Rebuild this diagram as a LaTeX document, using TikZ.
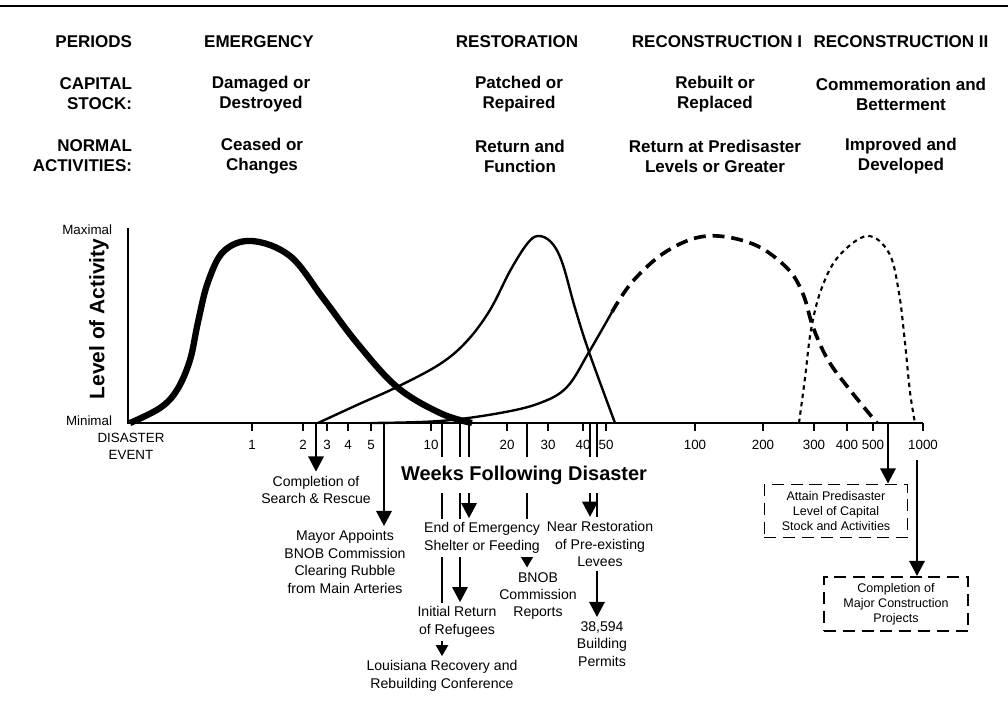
\documentclass[tikz,border=0pt]{standalone}
\usepackage{fontspec}
\setmainfont{Liberation Sans}
\usetikzlibrary{arrows.meta,backgrounds}
\tikzset{
  hdr/.style={font=\bfseries\fontsize{12.1}{14.2}\selectfont,align=center},
  hdrl/.style={hdr,align=right,anchor=east},
  evt/.style={font=\fontsize{10}{12.4}\selectfont,align=center,fill=white,inner xsep=0.5pt,inner ysep=3pt},
  goal/.style={draw,line width=1.3pt,dash pattern=on 0.3cm off 0.17cm,font=\fontsize{8.9}{10.6}\selectfont,align=center},
  axlbl/.style={font=\fontsize{9.5}{12}\selectfont},
  evline/.style={line width=1.9pt},
  evarrow/.style={evline,-{Triangle[width=0.38cm,length=0.38cm]}},
  evsmall/.style={evline,-{Triangle[width=0.3cm,length=0.28cm]}},
  emerg/.style={line width=4.5pt},
  resto/.style={line width=1.7pt},
  recon/.style={line width=2.6pt,dash pattern=on 0.3cm off 0.17cm},
  reconb/.style={line width=1.5pt,dash pattern=on 0.11cm off 0.1cm}
}

\begin{document}
\begin{tikzpicture}[x=0.025cm,y=-0.025cm]
            \useasboundingbox (0,0) rectangle (1008,718);
            \draw [line width =1.4pt] (0,6)--(1008,6);

            \node[hdrl] (per) at (137,42) {PERIODS};
            \node[hdrl] (cap) at (137,94) {CAPITAL\\STOCK:};
            \node[hdrl] (nor) at (137,156) {NORMAL\\ACTIVITIES:};

            \node[hdr] (em) at (259,42) {EMERGENCY};
            \node[hdr] (emc) at (261,94) {Damaged or\\Destroyed};
            \node[hdr] (emn) at (262,156) {Ceased or\\Changes};

            \node[hdr] (re) at (517,42) {RESTORATION};
            \node[hdr] (rec) at (519,94) {Patched or\\Repaired};
            \node[hdr] (ren) at (520,156) {Return and\\Function};

            \node[hdr] (ra) at (717,42) {RECONSTRUCTION I};
            \node[hdr] (rac) at (715,94) {Rebuilt or\\Replaced};
            \node[hdr] (ran) at (715,156) {Return at Predisaster\\Levels or Greater};

            \node[hdr] (rb) at (901,42) {RECONSTRUCTION II};
            \node[hdr] (rbc) at (901,94) {Commemoration and\\Betterment};
            \node[hdr] (rbn) at (901,156) {Improved and\\Developed};

            % axes
            \draw [line width =2.1pt] (128,228)--(128,423)--(923,423);
            \node[axlbl,anchor=east] (max) at (117,230) {Maximal};
            \node[axlbl,anchor=east] (min) at (117,421) {Minimal};
            \node[axlbl,align=center] (dis) at (131,446) {DISASTER\\EVENT};
            \node[font=\bfseries\fontsize{14.9}{17}\selectfont,rotate=90] (lvl) at (99,319) {Level of Activity};
            \foreach \x/\t in {252/1,303/2,327/3,348/4,371/5,431/10,507/20,548/30,583/40,606/50,695/100,763/200,814/300,847/400,873/500,923/1000}{
                \draw [line width =1.5pt] (\x,423)--(\x,431);
                \node[axlbl] (t\t) at (\x,445) {\t};
            }

            % curves
            \draw[emerg] plot[smooth,tension=0.6] coordinates {(130,423) (160,408) (177,390) (190,360) (198,322) (208,282) (224,251) (252,241) (290,256) (323,298) (357,343) (397,387) (440,413) (472,423)};
            \draw[resto] plot[smooth,tension=0.6] coordinates {(318,423) (357,405) (397,387) (440,364) (467,341) (490,310) (510,271) (527,244) (538,236) (551,242) (562,262) (575,308) (589,352) (615,423)};
            \draw[resto] plot[smooth,tension=0.6] coordinates {(372,423) (440,421) (500,413) (540,403) (567,387) (589,352) (612,312)};
            \draw[recon] plot[smooth,tension=0.6] coordinates {(612,312) (633,281) (667,251) (707,236) (753,244) (787,268) (803,294) (813,327) (828,360) (850,390) (877,423)};
            \draw[reconb] plot[smooth,tension=0.6] coordinates {(799,423) (805,378) (811,330) (821,290) (838,257) (867,236) (889,253) (899,293) (905,343) (910,392) (915,423)};

            % events
            \node[evt] (sr) at (316,490) {Completion of\\Search \& Rescue};
            \node[evt] (bnob) at (345,562) {Mayor Appoints\\BNOB Commission\\Clearing Rubble\\from Main Arteries};
            \node[evt,font=\bfseries\fontsize{14.2}{16}\selectfont,inner xsep=3pt,inner ysep=6pt] (wk) at (524,475) {Weeks Following Disaster};
            \node[evt] (rep) at (538,596) {BNOB\\Commission\\Reports};
            \node[evt] (eoe) at (482,538) {End of Emergency\\Shelter or Feeding};
            \node[evt] (ret) at (457,622) {Initial Return\\of Refugees};
            \node[evt] (lrc) at (442,676) {Louisiana Recovery and\\Rebuilding Conference};
            \node[evt] (lev) at (600,544) {Near Restoration\\of Pre-existing\\Levees};
            \node[evt] (bp) at (602,644) {38,594\\Building\\Permits};
            \node[goal,minimum width=3.575cm,minimum height=1.325cm] (pre) at (836,511) {Attain Predisaster\\Level of Capital\\Stock and Activities};
            \node[goal,minimum width=3.6cm,minimum height=1.35cm] (maj) at (896,604) {Completion of\\Major Construction\\Projects};

            \coordinate (a316) at (316,423);
            \coordinate (a384) at (384,423);
            \coordinate (a442) at (442,423);
            \coordinate (a460) at (460,423);
            \coordinate (a469) at (469,423);
            \coordinate (a527) at (527,423);
            \coordinate (a590) at (590,423);
            \coordinate (a597) at (597,423);
            \coordinate (a888) at (888,423);
            \coordinate (k) at (917,460);
            \begin{scope}[on background layer]
                \draw[evarrow] (a316)--(a316 |- sr.north);
                \draw[evarrow] (a384)--(a384 |- bnob.north);
                \draw[evsmall] (a442)--(a442 |- lrc.north);
                \draw[evarrow] (a460)--(a460 |- ret.north);
                \draw[evarrow] (a469)--(a469 |- eoe.north);
                \draw[evsmall] (a527)--(a527 |- rep.north);
                \draw[evarrow] (a590)--(a590 |- lev.north);
                \draw[evarrow] (a597)--(a597 |- bp.north);
                \draw[evarrow] (a888)--(a888 |- pre.north);
                \draw[evarrow] (k)--(k |- maj.north);
            \end{scope}
        \end{tikzpicture}
\end{document}
